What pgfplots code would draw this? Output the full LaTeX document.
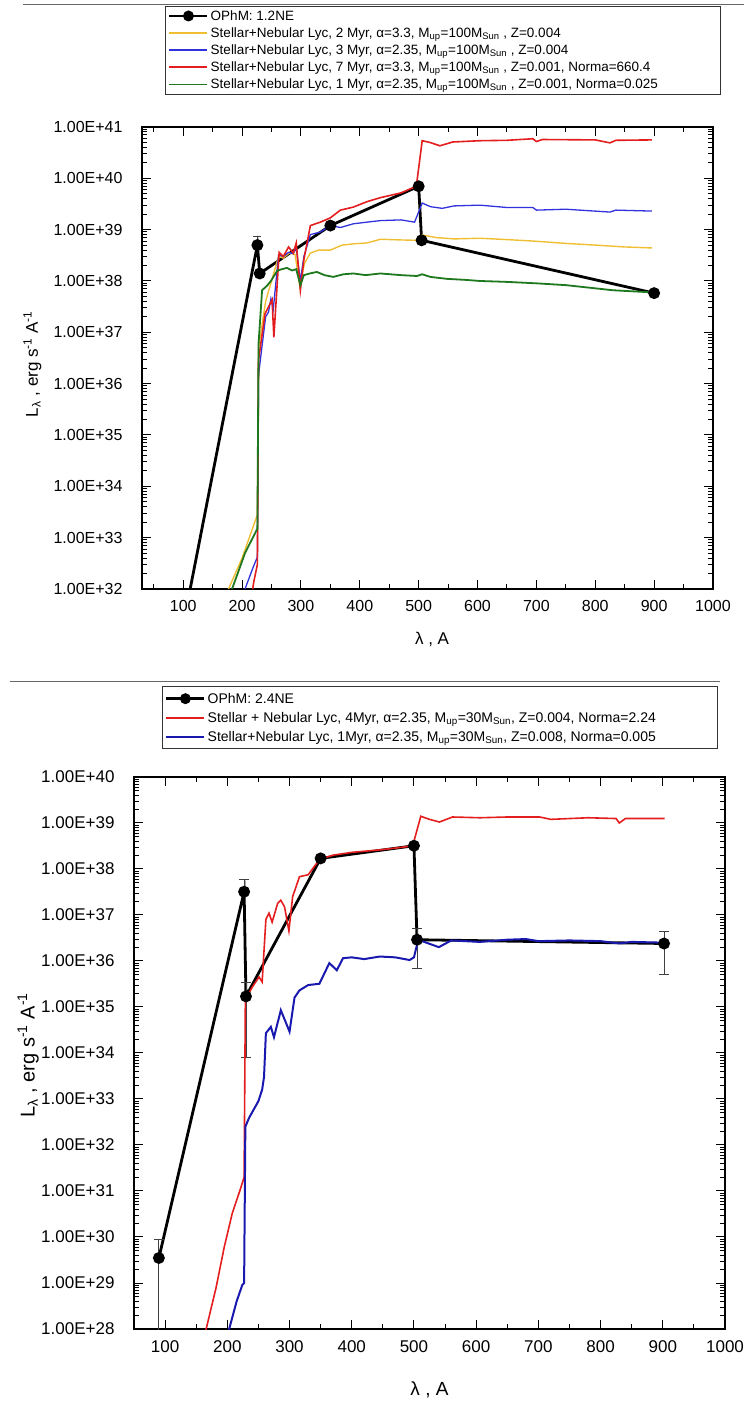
\documentclass[border=0pt]{standalone}
\usepackage{fontspec}
\setmainfont{Liberation Sans}
\usepackage{pgfplots}
\pgfplotsset{compat=1.18}

\definecolor{cyel}{RGB}{240,190,50}
\definecolor{cblu}{RGB}{50,50,220}
\definecolor{cred}{RGB}{228,30,30}
\definecolor{cgrn}{RGB}{30,120,30}
\definecolor{cdblu}{RGB}{25,25,175}

\newcommand{\leg}[1]{\makebox[505pt][l]{#1}}

\begin{document}
\begin{tikzpicture}
\useasboundingbox (0pt,0pt) rectangle (744pt,-1404pt);
\draw[black!60, line width=0.8pt] (23pt,-4pt) -- (744pt,-4pt);
\draw[black!60, line width=0.8pt] (10pt,-681pt) -- (720pt,-681pt);

% ---------------- top panel: 1.2NE ----------------
\begin{axis}[
  scale only axis,
  at={(142pt,-589pt)}, anchor=south west,
  width=571pt, height=462pt,
  ymode=log,
  xmin=30, xmax=1000, ymin=1e32, ymax=1e41,
  axis line style={line width=2pt},
  tick align=inside,
  major tick length=9pt, minor tick length=5pt,
  tick style={black, line width=1pt},
  xtick={100,200,300,400,500,600,700,800,900,1000},
  xticklabels={100,200,300,400,500,600,700,800,900,1000},
  minor xtick={50,150,250,350,450,550,650,750,850,950},
  ytick={1e32,1e33,1e34,1e35,1e36,1e37,1e38,1e39,1e40,1e41},
  yticklabels={1.00E+32,1.00E+33,1.00E+34,1.00E+35,1.00E+36,1.00E+37,1.00E+38,1.00E+39,1.00E+40,1.00E+41},
  minor ytick={2e32,3e32,4e32,5e32,6e32,7e32,8e32,9e32,
    2e33,3e33,4e33,5e33,6e33,7e33,8e33,9e33,
    2e34,3e34,4e34,5e34,6e34,7e34,8e34,9e34,
    2e35,3e35,4e35,5e35,6e35,7e35,8e35,9e35,
    2e36,3e36,4e36,5e36,6e36,7e36,8e36,9e36,
    2e37,3e37,4e37,5e37,6e37,7e37,8e37,9e37,
    2e38,3e38,4e38,5e38,6e38,7e38,8e38,9e38,
    2e39,3e39,4e39,5e39,6e39,7e39,8e39,9e39,
    2e40,3e40,4e40,5e40,6e40,7e40,8e40,9e40},
  ticklabel style={font=\fontsize{16}{18}\selectfont},
  xticklabel style={yshift=-8pt},
  yticklabel style={xshift=-16pt},
  xlabel={λ , A},
  ylabel={L\textsubscript{λ} , erg s\textsuperscript{-1} A\textsuperscript{-1}},
  xlabel style={font=\fontsize{17}{20}\selectfont, at={(axis description cs:0.508,-0.11)}, anchor=center},
  ylabel style={font=\fontsize{17}{20}\selectfont, at={(axis description cs:-0.192,0.487)}, anchor=center},
  legend cell align=left,
  legend style={font=\fontsize{13.5}{16}\selectfont, draw=black!80, line width=0.8pt,
    row sep=1.8pt, at={(axis description cs:0.040,1.262)}, anchor=north west},
  legend image code/.code={\draw[#1, line width=1.6pt] (0pt,0pt) -- (38pt,0pt);},
]
\addplot[black, line width=2.8pt, mark=*, mark size=4.5pt,
  legend image code/.code={\draw[black, line width=2.5pt] (0pt,0pt) -- (38pt,0pt); \fill[black] (19pt,0pt) circle (4pt);},
  error bars/y dir=both, error bars/y explicit,
  error bars/error bar style={line width=0.8pt, black!75},
  error bars/error mark options={rotate=90, mark size=4pt, line width=0.8pt, black!75}]
 coordinates {
 (91,6e30) +- (0,0)
 (226,5e38) += (0,2.4e38) -= (0,0)
 (230,1.4e38) +- (0,0)
 (350,1.2e39) +- (0,0)
 (500,7e39) +- (0,0)
 (505,6.2e38) +- (0,0)
 (900,5.8e37) +- (0,0)
};
\addlegendentry{OPhM: 1.2NE}

\addplot[line width=1.4pt, mark=none, cyel] coordinates {
 (172,6e31) (177,1e32) (200,4e32) (226,2.8e33) (228,5e36) (240,4e37) (252,1.2e38)
 (262,3e38) (270,2.8e38) (280,3.5e38) (290,3.3e38) (298,8e37) (306,2.2e38) (316,3.5e38)
 (330,4e38) (350,4e38) (370,5e38) (390,5.3e38) (412,5.5e38) (435,6.5e38) (470,6.3e38)
 (495,6.2e38) (506,7.9e38) (530,7e38) (560,6.6e38) (604,6.8e38) (650,6.4e38) (694,6e38)
 (750,5.4e38) (800,5e38) (850,4.6e38) (896,4.4e38)
};
\addlegendentry{\leg{Stellar+Nebular Lyc, 2 Myr, α=3.3, M\textsubscript{up}=100M\textsubscript{Sun} , Z=0.004}}

\addplot[line width=1.3pt, mark=none, cblu] coordinates {
 (200,5e31) (205,1e32) (218,2.5e32) (226,4.2e32) (228,1.5e36) (240,2e37) (245,2.5e37)
 (249,4.5e37) (253,2.8e37) (262,3.2e38) (270,3e38) (279,3.6e38) (287,3.4e38) (292,4.5e38)
 (299,1e38) (305,3e38) (316,8e38) (333,9e38) (350,1.2e39) (367,1.1e39) (389,1.3e39)
 (412,1.4e39) (435,1.5e39) (470,1.55e39) (493,1.4e39) (506,3.3e39) (520,2.8e39) (540,2.6e39)
 (560,2.9e39) (604,3e39) (650,2.7e39) (694,2.7e39) (700,2.4e39) (750,2.5e39) (825,2.2e39)
 (835,2.4e39) (896,2.3e39)
};
\addlegendentry{\leg{Stellar+Nebular Lyc, 3 Myr, α=2.35, M\textsubscript{up}=100M\textsubscript{Sun} , Z=0.004}}

\addplot[line width=1.6pt, mark=none, cred] coordinates {
 (214,5e31) (220,1.4e32) (226,3e32) (228,2.9e36) (239,2.3e37) (251,4.3e37) (254,8e36)
 (263,3.6e38) (270,3e38) (279,4.6e38) (287,3.5e38) (292,5.5e38) (299,6.6e37) (305,2.6e38)
 (316,1.2e39) (333,1.4e39) (350,1.7e39) (367,2.4e39) (389,2.75e39) (412,3.5e39) (435,4.2e39)
 (470,5.2e39) (496,7e39) (506,5.4e40) (519,5e40) (536,4.3e40) (558,5.1e40) (604,5.4e40)
 (650,5.5e40) (694,5.9e40) (700,5.2e40) (710,5.7e40) (800,5.6e40) (825,4.9e40) (835,5.5e40)
 (896,5.6e40)
};
\addlegendentry{\leg{Stellar+Nebular Lyc, 7 Myr, α=3.3, M\textsubscript{up}=100M\textsubscript{Sun} , Z=0.001, Norma=660.4}}

\addplot[line width=1.8pt, mark=none, cgrn] coordinates {
 (178,6e31) (183,1e32) (205,5e32) (226,1.5e33) (228,6e36) (234,6.6e37) (242,8e37)
 (249,1e38) (255,1.3e38) (260,1.6e38) (268,1.7e38) (276,1.8e38) (285,1.6e38) (292,1.7e38)
 (299,8.3e37) (305,1.3e38) (315,1.4e38) (327,1.5e38) (340,1.3e38) (355,1.2e38) (372,1.35e38)
 (389,1.4e38) (410,1.3e38) (435,1.4e38) (470,1.3e38) (497,1.25e38) (506,1.35e38) (520,1.2e38)
 (548,1.1e38) (580,1.05e38) (604,1e38) (650,9.6e37) (700,9e37) (750,8.3e37) (830,6.6e37)
 (896,6e37)
};
\addlegendentry{\leg{Stellar+Nebular Lyc, 1 Myr, α=2.35, M\textsubscript{up}=100M\textsubscript{Sun} , Z=0.001, Norma=0.025}}
\end{axis}

% ---------------- bottom panel: 2.4NE ----------------
\begin{axis}[
  scale only axis,
  at={(134pt,-1329pt)}, anchor=south west,
  width=591pt, height=552pt,
  ymode=log,
  xmin=50, xmax=1000, ymin=1e28, ymax=1e40,
  axis line style={line width=2pt},
  tick align=inside,
  major tick length=9pt, minor tick length=5pt,
  tick style={black, line width=1pt},
  xtick={100,200,300,400,500,600,700,800,900,1000},
  xticklabels={100,200,300,400,500,600,700,800,900,1000},
  minor xtick={50,150,250,350,450,550,650,750,850,950},
  ytick={1e28,1e29,1e30,1e31,1e32,1e33,1e34,1e35,1e36,1e37,1e38,1e39,1e40},
  yticklabels={1.00E+28,1.00E+29,1.00E+30,1.00E+31,1.00E+32,1.00E+33,1.00E+34,1.00E+35,1.00E+36,1.00E+37,1.00E+38,1.00E+39,1.00E+40},
  minor ytick={2e28,3e28,4e28,5e28,6e28,7e28,8e28,9e28,
    2e29,3e29,4e29,5e29,6e29,7e29,8e29,9e29,
    2e30,3e30,4e30,5e30,6e30,7e30,8e30,9e30,
    2e31,3e31,4e31,5e31,6e31,7e31,8e31,9e31,
    2e32,3e32,4e32,5e32,6e32,7e32,8e32,9e32,
    2e33,3e33,4e33,5e33,6e33,7e33,8e33,9e33,
    2e34,3e34,4e34,5e34,6e34,7e34,8e34,9e34,
    2e35,3e35,4e35,5e35,6e35,7e35,8e35,9e35,
    2e36,3e36,4e36,5e36,6e36,7e36,8e36,9e36,
    2e37,3e37,4e37,5e37,6e37,7e37,8e37,9e37,
    2e38,3e38,4e38,5e38,6e38,7e38,8e38,9e38,
    2e39,3e39,4e39,5e39,6e39,7e39,8e39,9e39},
  ticklabel style={font=\fontsize{17}{19}\selectfont},
  xticklabel style={yshift=-8pt},
  yticklabel style={xshift=-16pt},
  xlabel={λ , A},
  ylabel={L\textsubscript{λ} , erg s\textsuperscript{-1} A\textsuperscript{-1}},
  xlabel style={font=\fontsize{19}{22}\selectfont, at={(axis description cs:0.50,-0.11)}, anchor=center},
  ylabel style={font=\fontsize{20}{23}\selectfont, at={(axis description cs:-0.179,0.496)}, anchor=center},
  legend cell align=left,
  legend style={font=\fontsize{14}{16.5}\selectfont, draw=black!80, line width=0.8pt,
    row sep=3.5pt, inner ysep=4pt, at={(axis description cs:0.047,1.164)}, anchor=north west},
  legend image code/.code={\draw[#1] (0pt,0pt) -- (38pt,0pt);},
]
\addplot[black, line width=2.8pt, mark=*, mark size=4.5pt,
  legend image code/.code={\draw[black, line width=2.5pt] (0pt,0pt) -- (38pt,0pt); \fill[black] (19pt,0pt) circle (4pt);},
  error bars/y dir=both, error bars/y explicit,
  error bars/error bar style={line width=0.8pt, black!75},
  error bars/error mark options={rotate=90, mark size=5pt, line width=0.8pt, black!75}]
 coordinates {
 (90,3.5e29) += (0,5.5e29) -= (0,3.45e29)
 (227,3.2e37) += (0,2.6e37) -= (0,0)
 (230,1.7e35) += (0,1.8e35) -= (0,1.62e35)
 (350,1.7e38) +- (0,0)
 (500,3.2e38) +- (0,0)
 (505,2.9e36) += (0,2.1e36) -= (0,2.2e36)
 (902,2.4e36) += (0,2.1e36) -= (0,1.9e36)
};
\addlegendentry{OPhM: 2.4NE}

\addplot[line width=1.6pt, mark=none, cred] coordinates {
 (160,4e27) (166,1e28) (182,8e28) (195,6e29) (208,3.3e30) (220,1e31) (227,2e31)
 (229,1.4e35) (240,2.7e35) (251,4.5e35) (256,3.5e35) (262,8e36) (267,1.1e37) (272,7e36)
 (281,1.8e37) (286,2.1e37) (292,1.5e37) (299,4.5e36) (305,2.5e37) (316,6.8e37) (330,7.5e37)
 (348,1.6e38) (370,2e38) (400,2.3e38) (445,2.6e38) (475,2.9e38) (498,3.2e38) (511,1.4e39)
 (525,1.2e39) (541,1.05e39) (562,1.35e39) (606,1.3e39) (650,1.35e39) (702,1.35e39) (720,1.2e39)
 (780,1.3e39) (825,1.25e39) (830,1e39) (840,1.25e39) (903,1.25e39)
};
\addlegendentry{\leg{Stellar + Nebular Lyc, 4Myr, α=2.35, M\textsubscript{up}=30M\textsubscript{Sun}, Z=0.004, Norma=2.24}}

\addplot[line width=2pt, mark=none, cdblu] coordinates {
 (195,1e27) (203,1e28) (215,4e28) (224,9e28) (227,1e29) (229,2.5e32) (235,3.9e32)
 (250,9e32) (256,1.6e33) (259,3e33) (262,2.7e34) (270,3.7e34) (275,2.2e34) (286,8.5e34)
 (293,5e34) (300,2.9e34) (308,1.6e35) (316,2.3e35) (330,3e35) (348,3.2e35) (364,9e35)
 (376,6.3e35) (386,1.15e36) (400,1.2e36) (420,1.1e36) (445,1.25e36) (470,1.2e36) (493,1.05e36)
 (500,1.2e36) (507,2.9e36) (520,2.5e36) (540,2e36) (560,2.8e36) (606,2.6e36) (650,2.9e36)
 (680,3e36) (700,2.7e36) (750,2.8e36) (800,2.7e36) (830,2.4e36) (850,2.6e36) (903,2.5e36)
};
\addlegendentry{\leg{Stellar+Nebular Lyc, 1Myr, α=2.35, M\textsubscript{up}=30M\textsubscript{Sun}, Z=0.008, Norma=0.005}}
\end{axis}
\end{tikzpicture}
\end{document}
